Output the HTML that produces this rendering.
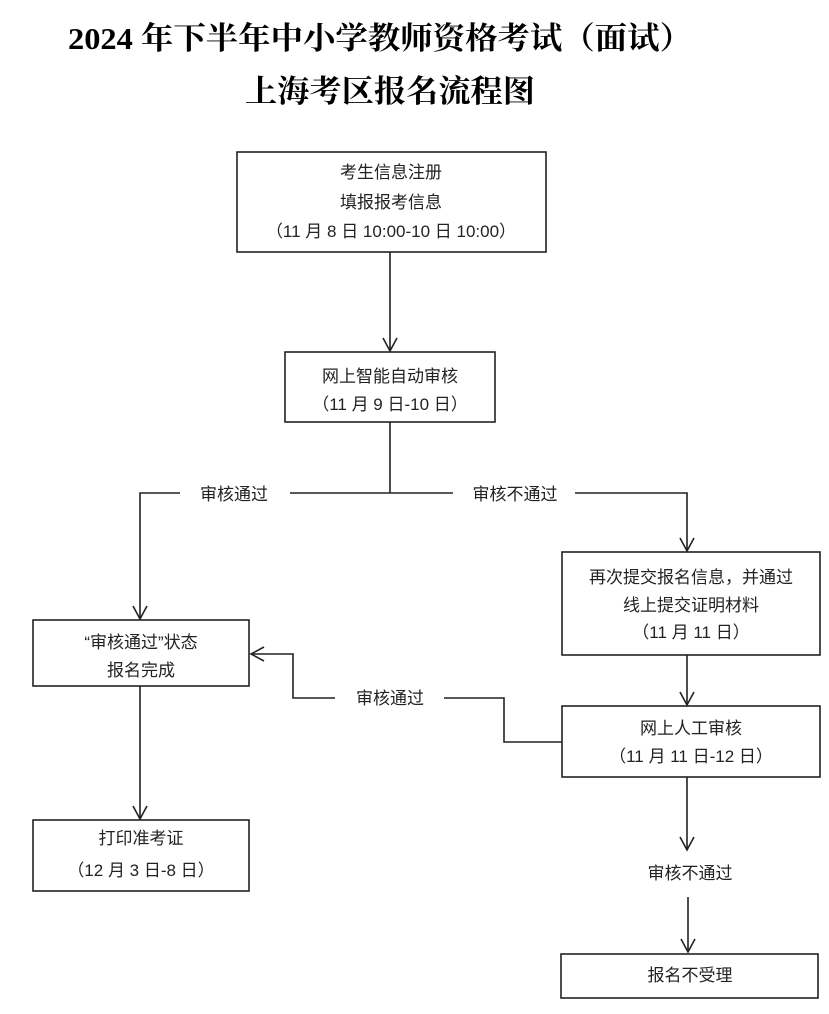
<!DOCTYPE html>
<html><head><meta charset="utf-8"><style>
html,body{margin:0;padding:0;background:#fff;}
svg{display:block;}
text{font-family:"Liberation Sans","Noto Sans CJK SC",sans-serif;fill:#222;}
.t{font-family:"Liberation Serif","Noto Serif CJK SC",serif;font-weight:bold;fill:#000;}
</style></head><body>
<svg width="829" height="1014" viewBox="0 0 829 1014" xmlns="http://www.w3.org/2000/svg">
<text class="t" x="68" y="49" font-size="31" textLength="624" lengthAdjust="spacingAndGlyphs">2024 年下半年中小学教师资格考试（面试）</text>
<text class="t" x="245" y="102" font-size="31" textLength="290" lengthAdjust="spacingAndGlyphs">上海考区报名流程图</text>
<g fill="none" stroke="#222" stroke-width="1.6">
<rect x="237" y="152" width="309" height="100"/>
<rect x="285" y="352" width="210" height="70"/>
<rect x="33" y="620" width="216" height="66"/>
<rect x="562" y="552" width="258" height="103"/>
<rect x="562" y="706" width="258" height="71"/>
<rect x="33" y="820" width="216" height="71"/>
<rect x="561" y="954" width="257" height="44"/>
<path d="M390 252V350"/>
<path d="M390 422V493"/>
<path d="M140 618V493H180 M290 493H453 M575 493H687V550"/>
<path d="M687 655V704"/>
<path d="M562 742H504V698H444 M335 698H293V654H252"/>
<path d="M140 686V818"/>
<path d="M687 777V850"/>
<path d="M688 897V952"/>
<path d="M383 338L390 351L397 338"/>
<path d="M133 606L140 619L147 606"/>
<path d="M680 538L687 551L694 538"/>
<path d="M680 692L687 705L694 692"/>
<path d="M264 647L251 654L264 661"/>
<path d="M133 806L140 819L147 806"/>
<path d="M680 837L687 850L694 837"/>
<path d="M681 939L688 952L695 939"/>
</g>
<g font-size="17" text-anchor="middle">
<text x="391" y="178">考生信息注册</text>
<text x="391" y="208">填报报考信息</text>
<text x="391" y="237">（11 月 8 日 10:00-10 日 10:00）</text>
<text x="390" y="382">网上智能自动审核</text>
<text x="390" y="410">（11 月 9 日-10 日）</text>
<text x="234" y="500">审核通过</text>
<text x="515" y="500">审核不通过</text>
<text x="141" y="648">“审核通过”状态</text>
<text x="141" y="676">报名完成</text>
<text x="691" y="583">再次提交报名信息，并通过</text>
<text x="691" y="611">线上提交证明材料</text>
<text x="691" y="638">（11 月 11 日）</text>
<text x="390" y="704">审核通过</text>
<text x="691" y="734">网上人工审核</text>
<text x="691" y="762">（11 月 11 日-12 日）</text>
<text x="141" y="844">打印准考证</text>
<text x="141" y="876">（12 月 3 日-8 日）</text>
<text x="690" y="879">审核不通过</text>
<text x="690" y="981">报名不受理</text>
</g>
</svg>
</body></html>
